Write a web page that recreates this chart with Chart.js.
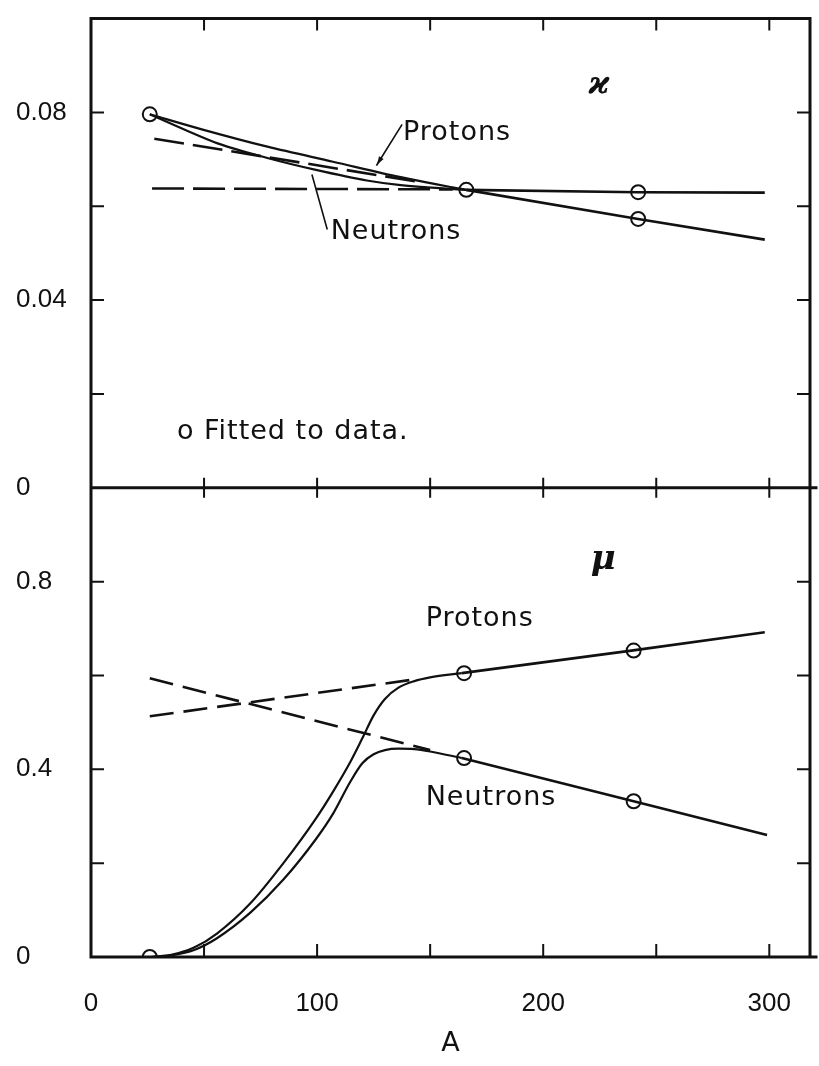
<!DOCTYPE html>
<html>
<head>
<meta charset="utf-8">
<script src="https://cdn.jsdelivr.net/npm/chart.js@4.4.1/dist/chart.umd.min.js"></script>
<style>
  html, body { margin: 0; padding: 0; background: #fff; }
</style>
</head>
<body>
<canvas id="chart" width="819" height="1066"></canvas>
<script>
// x axis (mass number A)
const xLabelValues = [0, 100, 200, 300];
const xTickMarks = [50, 100, 150, 200, 250, 300];

// kappa panel (top) ticks
const kappaLabelValues = [0, 0.04, 0.08];
const kappaLabelTexts = ['0', '0.04', '0.08'];
const kappaTickMarks = [0.02, 0.04, 0.06, 0.08];

// mu panel (bottom) ticks
const muLabelValues = [0, 0.4, 0.8];
const muLabelTexts = ['0', '0.4', '0.8'];
const muTickMarks = [0.2, 0.4, 0.6, 0.8];

// kappa - curved solid lines from the light end
const kappaProtonCurveA = [26, 49, 78, 107, 137, 159, 166];
const kappaProtonCurve = [0.0796, 0.0764, 0.0727, 0.0695, 0.0662, 0.0641, 0.0635];
const kappaNeutronCurveA = [26, 41, 56, 78, 100, 122, 137, 159, 166];
const kappaNeutronCurve = [0.0796, 0.0764, 0.0734, 0.0703, 0.0677, 0.0655, 0.0645, 0.0637, 0.0635];

// kappa - straight lines (solid part + dashed extension)
const kappaProtonLineA = [166, 242, 298];
const kappaProtonLine = [0.0635, 0.0573, 0.0529];
const kappaProtonDashA = [28, 145];
const kappaProtonDash = [0.0744, 0.0652];
const kappaNeutronLineA = [166, 242, 298];
const kappaNeutronLine = [0.0635, 0.0630, 0.0629];
const kappaNeutronDashA = [27, 160];
const kappaNeutronDash = [0.0638, 0.0636];

// kappa - fitted points
const kappaFitA = [26, 166, 242, 242];
const kappaFit = [0.0796, 0.0635, 0.0630, 0.0573];

// mu - curved solid lines
const muProtonCurveA = [27, 36, 45.6, 55.7, 70.6, 85.1, 99.6, 107, 114.5, 120, 125, 130, 136, 143, 150, 164];
const muProtonCurve = [0, 0.005, 0.020, 0.050, 0.115, 0.200, 0.296, 0.352, 0.414, 0.466, 0.515, 0.550, 0.574, 0.588, 0.596, 0.605];
const muNeutronCurveA = [27, 36, 45.6, 55.7, 70.6, 85.1, 99.6, 107, 114.5, 120, 125, 130, 136, 143, 150, 164];
const muNeutronCurve = [0, 0.004, 0.015, 0.040, 0.095, 0.165, 0.252, 0.305, 0.372, 0.413, 0.432, 0.441, 0.444, 0.443, 0.438, 0.424];

// mu - straight lines
const muProtonLineA = [164, 239, 298];
const muProtonLine = [0.605, 0.653, 0.692];
const muProtonDashA = [26, 145];
const muProtonDash = [0.513, 0.593];
const muNeutronLineA = [164, 240, 299];
const muNeutronLine = [0.424, 0.332, 0.260];
const muNeutronDashA = [26, 150];
const muNeutronDash = [0.594, 0.441];

// mu - fitted points
const muFitA = [26, 165, 240, 165, 240];
const muFit = [0, 0.605, 0.653, 0.424, 0.332];

const INK = '#111';

function pts(xs, ys) {
    return xs.map((a, i) => ({ x: a, y: ys[i] }));
}

function line(xs, ys, axis, opts) {
    return Object.assign({
        type: 'line',
        data: pts(xs, ys),
        yAxisID: axis,
        borderColor: INK,
        borderWidth: 2.6,
        pointRadius: 0,
        tension: 0,
        fill: false
    }, opts || {});
}

function fitted(xs, ys, axis) {
    return {
        type: 'scatter',
        data: pts(xs, ys),
        yAxisID: axis,
        pointStyle: 'circle',
        pointRadius: 7,
        borderWidth: 2,
        borderColor: INK,
        backgroundColor: 'rgba(0,0,0,0)'
    };
}

// smooth hand-drawn style curves
const curve = { borderWidth: 2.2, cubicInterpolationMode: 'monotone' };

// text labels inside the panels (position in data units of each panel)
const notes = [
    { axis: 'yK', a: 220, v: 0.086, text: 'ϰ', font: 'italic bold 32px "DejaVu Serif"' },
    { axis: 'yK', a: 138, v: 0.0756, text: 'Protons' },
    { axis: 'yK', a: 106, v: 0.0545, text: 'Neutrons' },
    { axis: 'yK', a: 38, v: 0.012, text: 'o Fitted to data.' },
    { axis: 'yM', a: 221, v: 0.845, text: 'μ', font: 'italic bold 34px "DejaVu Serif"' },
    { axis: 'yM', a: 148, v: 0.72, text: 'Protons' },
    { axis: 'yM', a: 148, v: 0.338, text: 'Neutrons' }
];

const framePlugin = {
    id: 'frame',
    afterDatasetsDraw(chart) {
        const { ctx, chartArea: a, scales } = chart;
        const xs = scales.x, yK = scales.yK, yM = scales.yM;
        const mid = yK.bottom;
        ctx.save();
        ctx.strokeStyle = INK;
        ctx.lineCap = 'square';

        // frame
        ctx.lineWidth = 3;
        ctx.beginPath();
        ctx.moveTo(a.left, a.bottom);
        ctx.lineTo(a.left, a.top);
        ctx.lineTo(a.right, a.top);
        ctx.lineTo(a.right, a.bottom);
        ctx.moveTo(a.left, mid);
        ctx.lineTo(a.right + 6, mid);
        ctx.moveTo(a.left, a.bottom);
        ctx.lineTo(a.right + 6, a.bottom);
        ctx.stroke();

        // tick marks
        ctx.lineWidth = 2;
        ctx.beginPath();
        xTickMarks.forEach(v => {
            const px = xs.getPixelForValue(v);
            ctx.moveTo(px, a.top); ctx.lineTo(px, a.top + 11);
            ctx.moveTo(px, mid - 9); ctx.lineTo(px, mid + 9);
            ctx.moveTo(px, a.bottom); ctx.lineTo(px, a.bottom - 12);
        });
        kappaTickMarks.forEach(v => {
            const py = yK.getPixelForValue(v);
            ctx.moveTo(a.left, py); ctx.lineTo(a.left + 12, py);
            ctx.moveTo(a.right, py); ctx.lineTo(a.right - 12, py);
        });
        muTickMarks.forEach(v => {
            const py = yM.getPixelForValue(v);
            ctx.moveTo(a.left, py); ctx.lineTo(a.left + 12, py);
            ctx.moveTo(a.right, py); ctx.lineTo(a.right - 12, py);
        });
        ctx.stroke();

        // leader lines for the top labels
        const p = (ax, v, axis) => [xs.getPixelForValue(ax), scales[axis].getPixelForValue(v)];
        ctx.lineWidth = 1.6;
        const [ax0, ay0] = p(137.4, 0.0773, 'yK');
        const [ax1, ay1] = p(126.4, 0.0688, 'yK');
        ctx.beginPath();
        ctx.moveTo(ax0, ay0); ctx.lineTo(ax1, ay1);
        const [nx0, ny0] = p(97.8, 0.0666, 'yK');
        const [nx1, ny1] = p(104.4, 0.0552, 'yK');
        ctx.moveTo(nx0, ny0); ctx.lineTo(nx1, ny1);
        ctx.stroke();
        // arrow head
        const ang = Math.atan2(ay1 - ay0, ax1 - ax0);
        ctx.fillStyle = INK;
        ctx.beginPath();
        ctx.moveTo(ax1, ay1);
        ctx.lineTo(ax1 - 9 * Math.cos(ang - 0.3), ay1 - 9 * Math.sin(ang - 0.3));
        ctx.lineTo(ax1 - 9 * Math.cos(ang + 0.3), ay1 - 9 * Math.sin(ang + 0.3));
        ctx.closePath();
        ctx.fill();

        // texts
        ctx.textBaseline = 'middle';
        ctx.textAlign = 'left';
        notes.forEach(n => {
            ctx.font = n.font || '27px "DejaVu Sans"';
            ctx.letterSpacing = n.font ? '0px' : '1px';
            ctx.fillText(n.text, xs.getPixelForValue(n.a), scales[n.axis].getPixelForValue(n.v));
        });
        ctx.restore();
    }
};

function yScale(min, max, values, texts, weight) {
    return {
        type: 'linear',
        position: 'left',
        stack: 'panels',
        stackWeight: weight,
        min: min,
        max: max,
        afterBuildTicks: s => { s.ticks = values.map(v => ({ value: v })); },
        afterFit: s => { s.width = 75; },
        grid: { display: false },
        border: { display: false },
        ticks: {
            crossAlign: 'far',
            color: INK,
            font: { family: '"Liberation Sans"', size: 26 },
            callback: (v, i) => texts[i]
        }
    };
}

new Chart(document.getElementById('chart'), {
    type: 'line',
    data: {
        datasets: [
            line(kappaProtonCurveA, kappaProtonCurve, 'yK', curve),
            line(kappaNeutronCurveA, kappaNeutronCurve, 'yK', curve),
            line(kappaProtonLineA, kappaProtonLine, 'yK'),
            line(kappaProtonDashA, kappaProtonDash, 'yK', { borderDash: [30, 9] }),
            line(kappaNeutronLineA, kappaNeutronLine, 'yK'),
            line(kappaNeutronDashA, kappaNeutronDash, 'yK', { borderDash: [32, 9] }),
            fitted(kappaFitA, kappaFit, 'yK'),
            line(muProtonCurveA, muProtonCurve, 'yM', curve),
            line(muNeutronCurveA, muNeutronCurve, 'yM', curve),
            line(muProtonLineA, muProtonLine, 'yM'),
            line(muProtonDashA, muProtonDash, 'yM', { borderDash: [24, 10] }),
            line(muNeutronLineA, muNeutronLine, 'yM'),
            line(muNeutronDashA, muNeutronDash, 'yM', { borderDash: [24, 10] }),
            fitted(muFitA, muFit, 'yM')
        ]
    },
    options: {
        responsive: false,
        animation: false,
        devicePixelRatio: 1,
        layout: { padding: { left: 16, right: 7, top: 16, bottom: 0 } },
        plugins: {
            legend: { display: false },
            tooltip: { enabled: false }
        },
        scales: {
            x: {
                type: 'linear',
                position: 'bottom',
                min: 0,
                max: 318,
                afterBuildTicks: s => { s.ticks = xLabelValues.map(v => ({ value: v })); },
                afterFit: s => { s.height = 109; },
                grid: { display: false },
                border: { display: false },
                ticks: {
                    padding: 23,
                    color: INK,
                    font: { family: '"Liberation Sans"', size: 26 }
                },
                title: {
                    display: true,
                    text: 'A',
                    color: INK,
                    font: { family: '"DejaVu Sans"', size: 27 },
                    padding: { top: 0, bottom: 6 }
                }
            },
            yM: yScale(0, 1, muLabelValues, muLabelTexts, 1),
            yK: yScale(0, 0.1, kappaLabelValues, kappaLabelTexts, 1)
        }
    },
    plugins: [framePlugin]
});
</script>
</body>
</html>
